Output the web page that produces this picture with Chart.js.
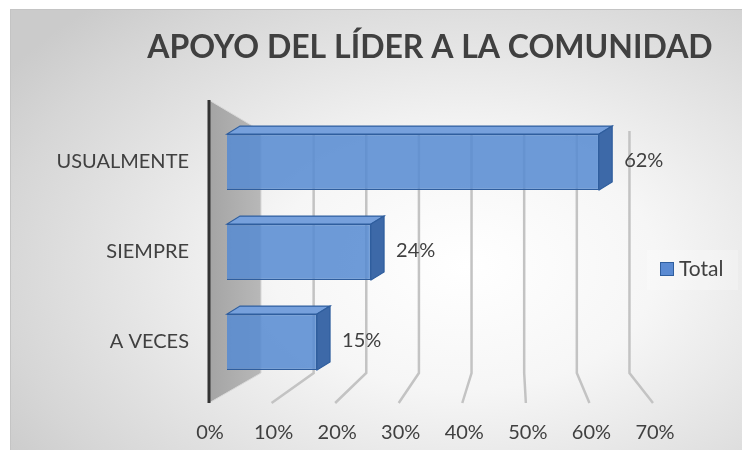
<!DOCTYPE html>
<html>
<head>
<meta charset="utf-8">
<script src="https://cdn.jsdelivr.net/npm/chart.js@4.4.0/dist/chart.umd.min.js"></script>
<style>
  body { margin: 0; background: #fff; }
  #frame {
    position: absolute; left: 10px; top: 9px; width: 732px; height: 441px;
    border-top: 1px solid #c4c4c4; border-left: 1px solid #c4c4c4;
    background: radial-gradient(ellipse 75% 80% at 62% 58%, #ffffff 0%, #f6f6f6 35%, #d6d6d6 85%, #cbcbcb 100%);
  }
  #mycanvas { position: absolute; left: 0; top: 0; }
</style>
</head>
<body>
<div id="frame"></div>
<canvas id="mycanvas" width="742" height="450"></canvas>
<script>
var chartTitle = 'APOYO DEL LÍDER A LA COMUNIDAD';
var categories = ['USUALMENTE', 'SIEMPRE', 'A VECES'];
var totals = [0.62, 0.24, 0.15];
var seriesName = 'Total';
var tickMin = 0;
var tickMax = 0.7;
var tickStep = 0.1;

var textColor = '#404040';
var depthX = 13, depthY = -8;

function pct(v) { return Math.round(v * 100) + '%'; }

// fake 3d: side wall, back-wall grid, box faces, labels, legend, title
var box3d = {
  id: 'box3d',
  beforeDatasetsDraw: function(chart) {
    var ctx = chart.ctx, a = chart.chartArea, x = chart.scales.x;
    var p0 = x.getPixelForValue(0);
    var wallX = p0 - 1, backX = p0 + 51;
    ctx.save();
    // grid lines on back wall and floor
    ctx.strokeStyle = '#c3c3c3';
    ctx.lineWidth = 2.5;
    for (var v = tickStep; v <= tickMax + 1e-9; v += tickStep) {
      var bx = backX + (x.getPixelForValue(v) - p0) * 0.828;
      var fx = x.getPixelForValue(v) - 2;
      ctx.beginPath();
      ctx.moveTo(bx, a.top + 14);
      ctx.lineTo(bx, a.bottom - 14);
      ctx.lineTo(fx, a.bottom + 16);
      ctx.stroke();
    }
    // side wall
    var g = ctx.createLinearGradient(wallX, 0, backX, 0);
    g.addColorStop(0, '#a4a4a4');
    g.addColorStop(1, '#b8b8b8');
    ctx.fillStyle = g;
    ctx.beginPath();
    ctx.moveTo(wallX, a.top - 17);
    ctx.lineTo(backX, a.top + 14);
    ctx.lineTo(backX, a.bottom - 14);
    ctx.lineTo(wallX, a.bottom + 16);
    ctx.closePath();
    ctx.fill();
    ctx.strokeStyle = '#d8d8d8';
    ctx.lineWidth = 1;
    ctx.stroke();
    ctx.strokeStyle = '#333';
    ctx.lineWidth = 3;
    ctx.beginPath();
    ctx.moveTo(wallX, a.top - 17);
    ctx.lineTo(wallX, a.bottom + 16);
    ctx.stroke();

    // depth faces of the bars
    chart.getDatasetMeta(0).data.forEach(function(bar) {
      var p = bar.getProps(['x', 'y', 'base', 'height'], true);
      var t = p.y - p.height / 2, b = p.y + p.height / 2;
      ctx.strokeStyle = '#2f5e9e';
      ctx.lineWidth = 1.2;
      ctx.fillStyle = '#76a0dc';
      ctx.beginPath();
      ctx.moveTo(p.base, t);
      ctx.lineTo(p.x, t);
      ctx.lineTo(p.x + depthX, t + depthY);
      ctx.lineTo(p.base + depthX, t + depthY);
      ctx.closePath();
      ctx.fill(); ctx.stroke();
      ctx.fillStyle = '#3d69a8';
      ctx.beginPath();
      ctx.moveTo(p.x, t);
      ctx.lineTo(p.x + depthX, t + depthY);
      ctx.lineTo(p.x + depthX, b + depthY);
      ctx.lineTo(p.x, b);
      ctx.closePath();
      ctx.fill(); ctx.stroke();
    });
    ctx.restore();
  },
  afterDatasetsDraw: function(chart) {
    var ctx = chart.ctx;
    ctx.save();
    ctx.font = '20px Lato';
    ctx.fillStyle = textColor;
    ctx.textBaseline = 'middle';
    ctx.textAlign = 'left';
    chart.getDatasetMeta(0).data.forEach(function(bar, i) {
      ctx.fillText(pct(totals[i]), bar.x + depthX + 12, bar.y - 1);
    });
    // legend
    ctx.fillStyle = 'rgba(255,255,255,0.25)';
    ctx.fillRect(647, 250, 91, 40);
    ctx.fillStyle = '#5a8ad2';
    ctx.strokeStyle = '#2f5e9e';
    ctx.lineWidth = 1;
    ctx.fillRect(660, 262, 14, 14);
    ctx.strokeRect(660.5, 262.5, 13, 13);
    ctx.fillStyle = textColor;
    ctx.font = '21px Lato';
    ctx.fillText(chart.data.datasets[0].label, 679, 269);
    // title (off-centre, like the original)
    ctx.font = 'bold 32px Lato';
    ctx.textAlign = 'center';
    ctx.fillText(chartTitle, 430, 48);
    ctx.restore();
  }
};

var ctx = document.getElementById('mycanvas');
var chart = new Chart(ctx, {
  type: 'bar',
  data: {
    labels: categories,
    datasets: [{
      label: seriesName,
      data: totals,
      xAxisID: 'xb',
      backgroundColor: 'rgba(86,138,210,0.86)',
      borderColor: '#2f5e9e',
      borderWidth: 1.2,
      barPercentage: 0.62,
      categoryPercentage: 1
    }]
  },
  options: {
    indexAxis: 'y',
    responsive: false,
    devicePixelRatio: 1,
    animation: false,
    layout: { padding: { left: 0, right: 87, top: 117, bottom: 0 } },
    plugins: {
      legend: { display: false },
      tooltip: { enabled: false },
      title: { display: false }
    },
    scales: {
      x: {
        min: tickMin,
        max: tickMax,
        ticks: {
          stepSize: tickStep,
          callback: function(v) { return pct(v); },
          color: textColor,
          font: { family: 'Lato', size: 20 },
          padding: 34,
          maxRotation: 0
        },
        grid: { display: false, drawTicks: false },
        border: { display: false },
        afterFit: function(s) { s.height = 63; }
      },
      xb: {
        display: false,
        min: -0.0283,
        max: 0.713
      },
      y: {
        ticks: {
          color: textColor,
          font: { family: 'Lato', size: 20 },
          padding: 21
        },
        grid: { display: false, drawTicks: false },
        border: { display: false },
        afterFit: function(s) { s.width = 210; }
      }
    }
  },
  plugins: [box3d]
});
</script>
</body>
</html>
